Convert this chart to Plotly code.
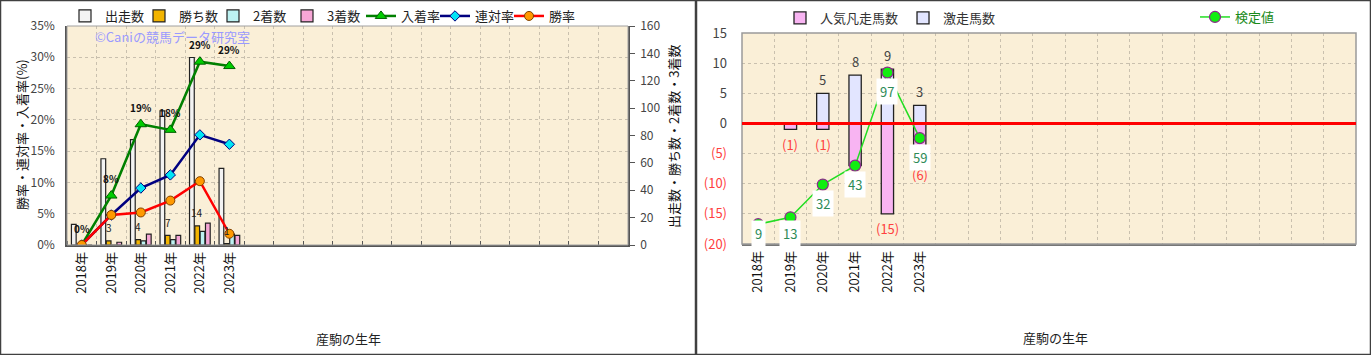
import plotly.graph_objects as go

# ---------------- data ----------------
years = ["2018年", "2019年", "2020年", "2021年", "2022年", "2023年"]
runs = [15, 63, 77, 98, 137, 56]          # 出走数
wins = [0, 3, 4, 7, 14, 1]                # 勝ち数
seconds = [0, 0, 3, 4, 10, 8]             # 2着数
thirds = [0, 2, 8, 7, 16, 7]              # 3着数
in_rate = [0.0, 7.9, 19.3, 18.4, 29.3, 28.6]   # 入着率 (%)
ren_rate = [0.0, 4.8, 9.1, 11.2, 17.6, 16.1]   # 連対率 (%)
win_rate = [0.0, 4.8, 5.2, 7.1, 10.2, 1.8]     # 勝率 (%)

pop_fail = [0, -1, -1, -7, -15, -6]       # 人気凡走馬数 (plotted negative)
gekisou = [0, 0, 5, 8, 9, 3]              # 激走馬数
kentei = [9, 13, 32, 43, 97, 59]          # 検定値

pct_ticks = [0, 5, 10, 15, 20, 25, 30, 35]
pct_labels = ["0%", "5%", "10%", "15%", "20%", "25%", "30%", "35%"]
cnt_ticks = [0, 20, 40, 60, 80, 100, 120, 140, 160]
r_ticks = [15, 10, 5, 0, -5, -10, -15, -20]

# ---------------- layout helpers ----------------
W, H = 1371, 355
N_SLOTS = 19
FONT = "Noto Sans CJK JP"


def px(x):
    return x / W


def py(y):
    return 1 - y / H


xi = list(range(len(years)))
bounds = [i - 0.5 for i in range(N_SLOTS + 1)]

L = dict(x0=67, x1=628, top=26, bot=245)
R = dict(x0=742, x1=1356, top=33, bot=244)

fig = go.Figure()

# ---------------- left chart bars (count axis y) ----------------
bw = 0.16
bar_specs = [
    ("出走数", runs, "#f3f3f3", -0.27),
    ("勝ち数", wins, "#f2b400", -0.09),
    ("2着数", seconds, "#bdf2f2", 0.09),
    ("3着数", thirds, "#f6a6d6", 0.27),
]
for name, vals, col, c in bar_specs:
    fig.add_trace(go.Bar(
        x=xi, y=vals, name=name, xaxis="x", yaxis="y",
        width=bw, offset=c - bw / 2,
        marker=dict(color=col, line=dict(color="#222222", width=1.2)),
        legend="legend", hoverinfo="skip",
    ))

# ---------------- left chart lines (percent axis y2) ----------------
line_specs = [
    ("入着率", in_rate, "#008000", "triangle-up", 10, "#00cc00", "#006000"),
    ("連対率", ren_rate, "#000080", "diamond", 8, "#00e5f5", "#000080"),
    ("勝率", win_rate, "#ff0000", "circle", 9, "#ff9900", "#804000"),
]
for name, vals, lc, sym, ms, mc, mlc in line_specs:
    fig.add_trace(go.Scatter(
        x=xi, y=vals, name=name, xaxis="x", yaxis="y2", mode="lines+markers",
        line=dict(color=lc, width=2.5),
        marker=dict(symbol=sym, size=ms, color=mc, line=dict(color=mlc, width=1)),
        legend="legend", hoverinfo="skip",
    ))

# ---------------- right chart bars ----------------
rw = 0.38
fig.add_trace(go.Bar(
    x=xi, y=pop_fail, name="人気凡走馬数", xaxis="x2", yaxis="y3",
    width=rw, offset=-rw / 2,
    marker=dict(color="#f8b4f2", line=dict(color="#222222", width=1.3)),
    legend="legend2", hoverinfo="skip",
))
fig.add_trace(go.Bar(
    x=xi, y=gekisou, name="激走馬数", xaxis="x2", yaxis="y3",
    width=rw, offset=-rw / 2,
    marker=dict(color="#e2e5ff", line=dict(color="#222222", width=1.3)),
    legend="legend2", hoverinfo="skip",
))
k_range = [-2.5, 120]
fig.add_trace(go.Scatter(
    x=xi, y=kentei, name="検定値", xaxis="x2", yaxis="y4", mode="lines+markers",
    line=dict(color="#22dd22", width=1.5),
    marker=dict(symbol="circle", size=11, color="#11ee11", line=dict(color="#8a2a8a", width=1.2)),
    legend="legend3", hoverinfo="skip",
))

# ---------------- annotations ----------------
ann = []
C = dict(xanchor="center", yanchor="middle", showarrow=False)
# watermark (drawn first so the labels sit on top of it)
ann.append(dict(x=px(172), y=py(37), xref="paper", yref="paper", text="©Caniの競馬データ研究室",
                font=dict(size=13, color="#9a9aff", family=FONT), **C))
# 入着率 labels
for x, v in zip(xi, in_rate):
    ann.append(dict(x=x, y=v, xref="x", yref="y2", text=f"<b>{v:.0f}%</b>",
                    yshift=17, font=dict(size=10, color="#111111", family=FONT), **C))
# 勝ち数 labels
for x, v in zip(xi, wins):
    if v > 0:
        ann.append(dict(x=x - 0.09, y=v, xref="x", yref="y", text=str(v),
                        yshift=13, font=dict(size=10, color="#222222", family=FONT), **C))
# right chart bar labels
for x, v in zip(xi, gekisou):
    if v > 0:
        ann.append(dict(x=x, y=v, xref="x2", yref="y3", text=str(v),
                        yshift=14, font=dict(size=13, color="#444444", family=FONT), **C))
for x, v in zip(xi, pop_fail):
    if v < 0 and v != -7:
        ann.append(dict(x=x, y=v, xref="x2", yref="y3", text=f"({-v})",
                        yshift=-15, font=dict(size=13, color="#ff4040", family=FONT), **C))
# 検定値 labels (white boxes, kept inside plot)
plot_h = R["bot"] - R["top"]
unit = plot_h / (k_range[1] - k_range[0])
for x, v in zip(xi, kentei):
    pt = (v - k_range[0]) * unit
    lab = max(pt - 19, 10)
    ann.append(dict(x=x, y=v, xref="x2", yref="y4", text=str(v),
                    yshift=lab - pt, bgcolor="white", borderpad=3,
                    font=dict(size=13, color="#2e8b57", family=FONT), **C))
# axis titles
ann.append(dict(x=px(22), y=py(135), xref="paper", yref="paper", text="勝率・連対率・入着率(%)",
                textangle=-90, font=dict(size=13, color="#111111", family=FONT), **C))
ann.append(dict(x=px(674), y=py(137), xref="paper", yref="paper", text="出走数・勝ち数・2着数・3着数",
                textangle=-90, font=dict(size=13, color="#111111", family=FONT), **C))
ann.append(dict(x=px(348), y=py(338), xref="paper", yref="paper", text="産駒の生年",
                font=dict(size=13, color="#222222", family=FONT), **C))
ann.append(dict(x=px(1055), y=py(337), xref="paper", yref="paper", text="産駒の生年",
                font=dict(size=13, color="#222222", family=FONT), **C))

# ---------------- shapes ----------------
shapes = [
    dict(type="rect", xref="paper", yref="paper", x0=0, y0=0, x1=1, y1=1,
         line=dict(color="#404040", width=2.5), layer="above"),
    dict(type="line", xref="paper", yref="paper", x0=px(696), x1=px(696), y0=0, y1=1,
         line=dict(color="#404040", width=2.5)),
    dict(type="rect", xref="x domain", yref="y domain", x0=0, x1=1, y0=0, y1=1,
         line=dict(color="#a0a0a0", width=1), layer="above"),
    dict(type="rect", xref="x2 domain", yref="y3 domain", x0=0, x1=1, y0=0, y1=1,
         line=dict(color="#9a9a9a", width=1.5), layer="above"),
    dict(type="line", xref="x2 domain", yref="y3", x0=0, x1=1, y0=0, y1=0,
         line=dict(color="#ff0000", width=3), layer="above"),
]

grid_col = "#c9c0ae"
tickfont = dict(size=12, color="#444444", family=FONT)
xtickfont = dict(size=13, color="#111111", family=FONT)

r_ticktext = []
for t in r_ticks:
    if t < 0:
        r_ticktext.append(f"<span style='color:#ff4040'>({-t})</span>")
    else:
        r_ticktext.append(str(t))

ax_common = dict(automargin=False)

fig.update_layout(
    template="none",
    width=W, height=H,
    margin=dict(l=0, r=0, t=0, b=0, pad=0, autoexpand=False),
    paper_bgcolor="white",
    plot_bgcolor="#faefd7",
    font=dict(family=FONT, size=12, color="#333333"),
    barmode="overlay",
    showlegend=True,
    xaxis=dict(
        domain=[px(L["x0"]), px(L["x1"])], anchor="y", range=[-0.5, N_SLOTS - 0.5],
        tickmode="array", tickvals=xi, ticktext=years, tickangle=-90, tickfont=xtickfont,
        showgrid=False, zeroline=False, showline=True, linecolor="#555555", linewidth=1.5,
        ticks="",
        minor=dict(tickmode="array", tickvals=bounds, showgrid=True, gridcolor=grid_col,
                   griddash="dot", gridwidth=1, ticks="inside", ticklen=4, tickcolor="#555555"),
        **ax_common,
    ),
    yaxis=dict(
        domain=[py(L["bot"]), py(L["top"])], anchor="x", side="right", range=[0, 160],
        tickmode="array", tickvals=cnt_ticks, ticks="outside", ticklen=5, tickcolor="#555555",
        showgrid=False, zeroline=False, showline=True, linecolor="#555555", linewidth=1.5,
        tickfont=tickfont, ticklabelstandoff=3, **ax_common,
    ),
    yaxis2=dict(
        overlaying="y", anchor="x", side="left", range=[0, 35],
        tickmode="array", tickvals=pct_ticks, ticktext=pct_labels, ticks="",
        showgrid=True, gridcolor=grid_col, griddash="dot", gridwidth=1,
        zeroline=False, showline=True, linecolor="#555555", linewidth=1.5,
        tickfont=tickfont, ticklabelstandoff=8, **ax_common,
    ),
    xaxis2=dict(
        domain=[px(R["x0"]), px(R["x1"])], anchor="y3", range=[-0.5, N_SLOTS - 0.5],
        tickmode="array", tickvals=xi, ticktext=years, tickangle=-90, tickfont=xtickfont,
        showgrid=False, zeroline=False, showline=True, linecolor="#777777", linewidth=1.5,
        ticks="",
        minor=dict(tickmode="array", tickvals=bounds, showgrid=True, gridcolor=grid_col,
                   griddash="dot", gridwidth=1),
        **ax_common,
    ),
    yaxis3=dict(
        domain=[py(R["bot"]), py(R["top"])], anchor="x2", range=[-20, 15],
        tickmode="array", tickvals=r_ticks, ticktext=r_ticktext, ticks="",
        showgrid=True, gridcolor=grid_col, griddash="dot", gridwidth=1,
        zeroline=False, showline=False, ticklabelstandoff=14,
        tickfont=dict(size=13, color="#444444", family=FONT), **ax_common,
    ),
    yaxis4=dict(overlaying="y3", anchor="x2", range=k_range, visible=False),
    legend=dict(orientation="h", x=px(65), y=py(16), xanchor="left", yanchor="middle",
                bgcolor="rgba(0,0,0,0)", font=dict(size=13, color="#222222", family=FONT),
                itemwidth=30, entrywidth=29),
    legend2=dict(orientation="h", x=px(780), y=py(18), xanchor="left", yanchor="middle",
                 bgcolor="rgba(0,0,0,0)", font=dict(size=13, color="#333333", family=FONT),
                 itemwidth=30),
    legend3=dict(orientation="h", x=px(1195), y=py(17), xanchor="left", yanchor="middle",
                 bgcolor="rgba(0,0,0,0)", font=dict(size=13, color="#1a8a1a", family=FONT),
                 itemwidth=30),
    annotations=ann,
    shapes=shapes,
)

fig.write_html(
    "out.html",
    config={"displayModeBar": False},
    post_script=(
        "document.body.style.margin='0';document.body.style.overflow='hidden';"
        "var d=document.getElementById('{plot_id}');"
        "d.style.position='fixed';d.style.left='0px';d.style.top='0px';"
    ),
)
